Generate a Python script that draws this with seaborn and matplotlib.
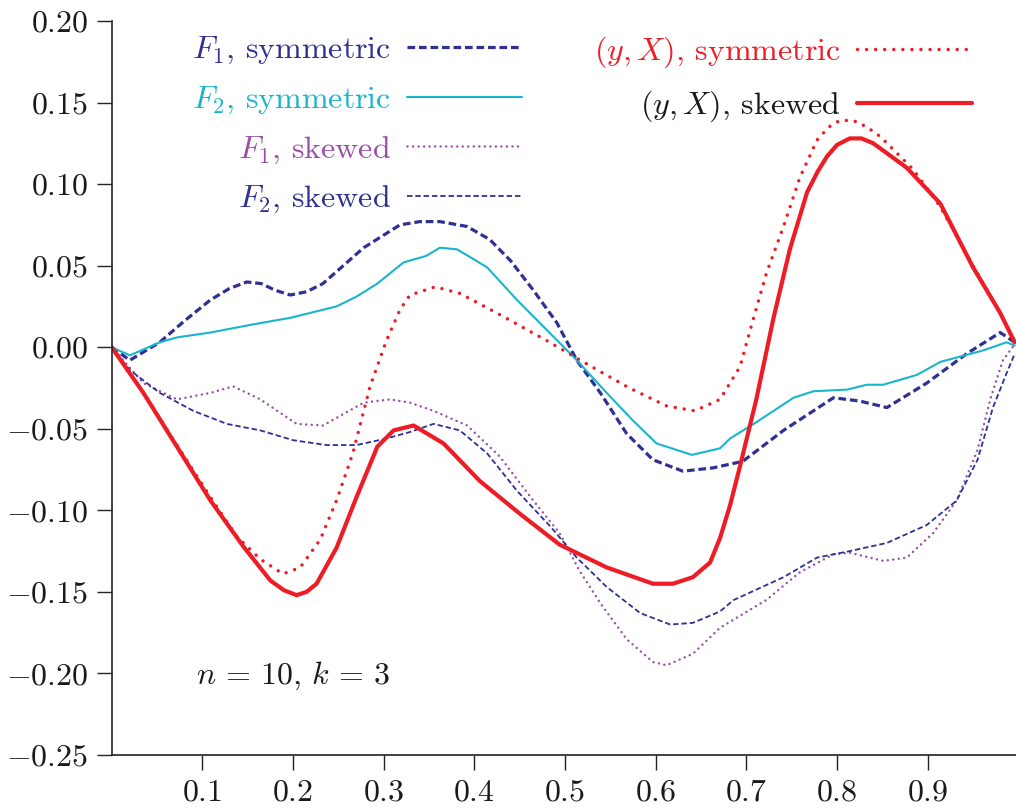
import matplotlib
matplotlib.use("Agg")
import matplotlib.pyplot as plt
import seaborn as sns
import numpy as np
import pandas as pd
from matplotlib.ticker import FuncFormatter, FixedLocator

# ---------------- data ----------------
f1_sym_x = [0, 0.02, 0.053, 0.08, 0.109, 0.13, 0.149, 0.165, 0.18, 0.197, 0.215, 0.233, 0.278, 0.318, 0.34,
            0.362, 0.392, 0.417, 0.44, 0.465, 0.491, 0.513, 0.539, 0.568, 0.597, 0.630, 0.663, 0.696, 0.741,
            0.796, 0.825, 0.855, 0.899, 0.943, 0.980, 0.996]
f1_sym_y = [0, -0.008, 0.003, 0.016, 0.029, 0.036, 0.040, 0.039, 0.035, 0.032, 0.034, 0.039, 0.061, 0.075,
            0.077, 0.077, 0.074, 0.066, 0.053, 0.035, 0.015, -0.008, -0.028, -0.053, -0.069, -0.076, -0.074,
            -0.070, -0.051, -0.031, -0.033, -0.037, -0.022, -0.004, 0.009, 0.003]

f2_sym_x = [0, 0.02, 0.053, 0.072, 0.109, 0.156, 0.197, 0.248, 0.27, 0.293, 0.322, 0.347, 0.362, 0.381,
            0.414, 0.447, 0.472, 0.513, 0.546, 0.575, 0.601, 0.64, 0.671, 0.682, 0.711, 0.752, 0.774,
            0.811, 0.833, 0.851, 0.888, 0.914, 0.961, 0.987, 0.996]
f2_sym_y = [0, -0.005, 0.003, 0.006, 0.009, 0.014, 0.018, 0.025, 0.031, 0.039, 0.052, 0.056, 0.061, 0.060,
            0.049, 0.029, 0.015, -0.008, -0.028, -0.045, -0.059, -0.066, -0.062, -0.056, -0.046, -0.031,
            -0.027, -0.026, -0.023, -0.023, -0.017, -0.009, -0.002, 0.003, 0.001]

f1_skw_x = [0, 0.035, 0.072, 0.109, 0.134, 0.164, 0.204, 0.233, 0.278, 0.307, 0.329, 0.355, 0.392, 0.428,
            0.465, 0.494, 0.516, 0.539, 0.568, 0.597, 0.612, 0.641, 0.671, 0.722, 0.759, 0.796, 0.814,
            0.851, 0.877, 0.906, 0.932, 0.955, 0.969, 0.983, 0.995]
f1_skw_y = [0, -0.022, -0.032, -0.028, -0.024, -0.032, -0.047, -0.048, -0.034, -0.032, -0.034, -0.039,
            -0.048, -0.067, -0.094, -0.114, -0.137, -0.157, -0.179, -0.193, -0.195, -0.188, -0.172,
            -0.155, -0.138, -0.127, -0.126, -0.131, -0.129, -0.114, -0.094, -0.063, -0.032, -0.008, 0.001]

f2_skw_x = [0, 0.02, 0.053, 0.09, 0.127, 0.164, 0.2, 0.237, 0.27, 0.303, 0.329, 0.355, 0.384, 0.414, 0.447,
            0.484, 0.513, 0.546, 0.583, 0.616, 0.641, 0.671, 0.686, 0.741, 0.778, 0.814, 0.855, 0.899,
            0.932, 0.955, 0.972, 0.987, 0.996]
f2_skw_y = [0, -0.014, -0.028, -0.039, -0.047, -0.051, -0.057, -0.060, -0.060, -0.056, -0.052, -0.047,
            -0.051, -0.065, -0.088, -0.110, -0.129, -0.147, -0.163, -0.170, -0.169, -0.162, -0.155,
            -0.141, -0.129, -0.125, -0.120, -0.109, -0.094, -0.069, -0.037, -0.016, -0.004]

yx_sym_x = [0, 0.035, 0.072, 0.109, 0.138, 0.164, 0.189, 0.208, 0.23, 0.248, 0.266, 0.285, 0.303, 0.318,
            0.329, 0.357, 0.384, 0.428, 0.48, 0.52, 0.571, 0.612, 0.643, 0.671, 0.693, 0.708, 0.722,
            0.741, 0.759, 0.778, 0.791, 0.803, 0.818, 0.833, 0.848, 0.884, 0.914, 0.95, 0.98, 0.996]
yx_sym_y = [0, -0.028, -0.060, -0.092, -0.116, -0.130, -0.139, -0.135, -0.118, -0.094, -0.065, -0.024,
            0.004, 0.023, 0.032, 0.037, 0.033, 0.020, 0.004, -0.009, -0.025, -0.036, -0.039, -0.032,
            -0.012, 0.018, 0.045, 0.074, 0.104, 0.127, 0.135, 0.139, 0.139, 0.135, 0.129, 0.109, 0.086,
            0.050, 0.021, 0.003]

yx_skw_x = [0, 0.035, 0.072, 0.109, 0.145, 0.175, 0.19, 0.204, 0.215, 0.226, 0.248, 0.27, 0.293, 0.311,
            0.333, 0.366, 0.406, 0.45, 0.494, 0.546, 0.597, 0.619, 0.641, 0.66, 0.671, 0.682, 0.693, 0.711,
            0.73, 0.748, 0.767, 0.779, 0.789, 0.80, 0.814, 0.827, 0.84, 0.877, 0.914, 0.95, 0.98, 0.996]
yx_skw_y = [0, -0.028, -0.061, -0.094, -0.122, -0.143, -0.149, -0.152, -0.150, -0.145, -0.123, -0.092,
            -0.061, -0.051, -0.048, -0.059, -0.082, -0.102, -0.121, -0.135, -0.145, -0.145, -0.141, -0.132,
            -0.117, -0.097, -0.073, -0.032, 0.018, 0.060, 0.095, 0.108, 0.117, 0.124, 0.128, 0.128, 0.125,
            0.110, 0.088, 0.049, 0.021, 0.003]

labels = [r"$F_1$, symmetric", r"$F_2$, symmetric", r"$F_1$, skewed", r"$F_2$, skewed",
          r"$(y, X)$, symmetric", r"$(y, X)$, skewed"]
x_ticks = [0.1, 0.2, 0.3, 0.4, 0.5, 0.6, 0.7, 0.8, 0.9]
y_ticks = [-0.25, -0.20, -0.15, -0.10, -0.05, 0.00, 0.05, 0.10, 0.15, 0.20]
annotation = r"$n\,=\,10$, $k\,=\,3$"

# ---------------- styling ----------------
sns.set_style("ticks")
plt.rcParams["font.family"] = ["cmr10", "DejaVu Serif"]
plt.rcParams["mathtext.fontset"] = "cm"
plt.rcParams["axes.unicode_minus"] = False

NAVY = "#2e3192"
CYAN = "#19b5cc"
PURPLE = "#9a4ea8"
RED = "#ee1c25"

FS = 23

fig = plt.figure(figsize=(10.16, 8.11), dpi=100)
ax = fig.add_axes([0.1099, 0.06905, 0.8924, 0.9051])

series = [
    (f1_sym_x, f1_sym_y, dict(color=NAVY, lw=2.3, linestyle=(0, (2.4, 1.2)))),
    (f2_sym_x, f2_sym_y, dict(color=CYAN, lw=1.5, linestyle="-")),
    (f1_skw_x, f1_skw_y, dict(color=PURPLE, lw=1.8, linestyle=(0, (0.01, 2.2)), dash_capstyle="round")),
    (f2_skw_x, f2_skw_y, dict(color=NAVY, lw=1.3, linestyle=(0, (3.0, 1.6)))),
    (yx_sym_x, yx_sym_y, dict(color=RED, lw=2.5, linestyle=(0, (0.01, 2.6)), dash_capstyle="round")),
    (yx_skw_x, yx_skw_y, dict(color=RED, lw=3.0, linestyle="-")),
]

lines = []
for (xs, ys, st), lab in zip(series, labels):
    df = pd.DataFrame({"x": xs, "y": ys})
    n_before = len(ax.get_lines())
    sns.lineplot(data=df, x="x", y="y", ax=ax, sort=False, estimator=None, legend=False, **st)
    lines.append(ax.get_lines()[n_before])

ax.set_xlim(0, 1.0)
ax.set_ylim(-0.25, 0.20)
ax.set_xlabel("")
ax.set_ylabel("")
ax.xaxis.set_major_locator(FixedLocator(x_ticks))
ax.yaxis.set_major_locator(FixedLocator(y_ticks))
ax.xaxis.set_major_formatter(FuncFormatter(lambda v, p: r"$%.1f$" % v))
ax.yaxis.set_major_formatter(FuncFormatter(lambda v, p: r"$%.2f$" % v))
ax.tick_params(axis="both", direction="out", length=11, width=1.0, color="#222222",
               labelsize=FS, labelcolor="#1a1a1a", pad=6)
for s in ["top", "right"]:
    ax.spines[s].set_visible(False)
for s in ["left", "bottom"]:
    ax.spines[s].set_linewidth(1.2)
    ax.spines[s].set_color("#222222")

# legends
common = dict(loc="upper right", frameon=False, markerfirst=False, fontsize=FS, handlelength=3.6,
              handletextpad=0.5, labelspacing=0.58, borderpad=0, borderaxespad=0)
leg1 = ax.legend(lines[:4], labels[:4], bbox_to_anchor=(0.4525, 0.981),
                 labelcolor=[NAVY, CYAN, PURPLE, NAVY], **common)
ax.add_artist(leg1)
leg2 = ax.legend(lines[4:], labels[4:], bbox_to_anchor=(0.9488, 0.981),
                 labelcolor=[RED, "#1a1a1a"], **common)

ax.text(0.2, -0.2015, annotation, fontsize=FS, ha="center", va="center", color="#1a1a1a")

fig.savefig("out.png", dpi=100)
